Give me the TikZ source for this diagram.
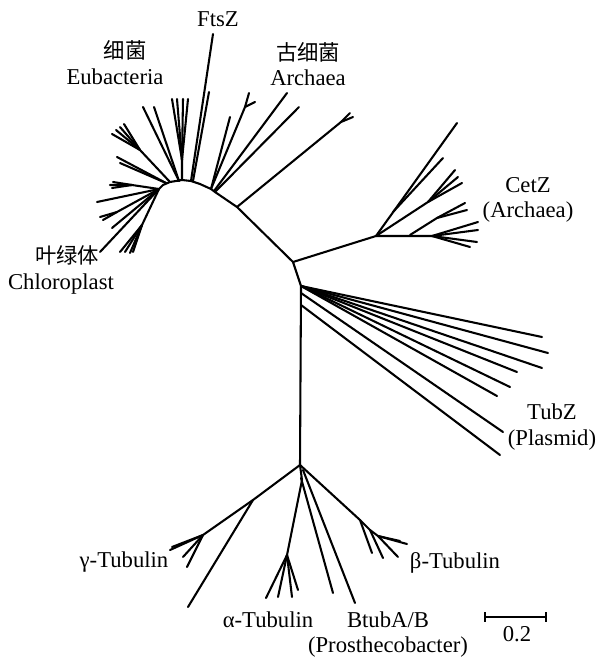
\documentclass[tikz,border=0pt]{standalone}
\usepackage{fontspec}
\setmainfont{Liberation Serif}
\newfontfamily\cjkfont{Noto Sans CJK SC}
\usepackage{tikz}
\usetikzlibrary{calc}

\tikzset{
  branch/.style={line width=1.55pt},
  lab/.style={inner sep=0pt,font=\fontsize{17}{20}\selectfont},
  cjklab/.style={inner sep=0pt,font=\cjkfont\fontsize{16}{19}\selectfont},
}

\begin{document}
\begin{tikzpicture}[x=0.75pt,y=-0.75pt,line join=round,line cap=round]
  \useasboundingbox (0,0) rectangle (598,657);
  % backbone
  \coordinate (R0) at (300,465);
  \coordinate (R1) at (301,286);
  \coordinate (R2) at (293,262);
  % arch
  \coordinate (A1) at (237,207);
  \coordinate (A2) at (215,192);
  \coordinate (A3) at (211,189);
  \coordinate (A4) at (191,181);
  \coordinate (A5) at (182,180);
  \coordinate (A6) at (170,182);
  \coordinate (A7) at (163,185);
  \coordinate (A8) at (159,189);
  \draw[branch] (R0) -- (R1) -- (R2) -- (A1) -- (A2) -- (A3) -- (200,184) -- (A4)
    -- (A5) -- (A6) -- (A7) -- (A8);
  % archaea
  \coordinate (N1) at (341,122);
  \draw[branch] (A1) -- (N1) -- (350,113);
  \draw[branch] (N1) -- (353,117);
  \draw[branch] (A2) -- (299,107);
  \draw[branch] (214,191) -- (287,93);
  \coordinate (N3) at (245,107);
  \draw[branch] (A3) -- (N3) -- (249,93);
  \draw[branch] (N3) -- (255,102);
  \draw[branch] (A3) -- (230,117);
  % FtsZ
  \draw[branch] (A4) -- (213,34);
  \draw[branch] (193,181) -- (209,92);
  % eubacteria
  \coordinate (E1) at (182,160);
  \draw[branch] (A5) -- (E1) -- (172,99);
  \draw[branch] (E1) -- (177,99);
  \draw[branch] (E1) -- (183,99);
  \draw[branch] (E1) -- (188,99);
  \draw[branch] (179,181) -- (143,107);
  \draw[branch] (179,181) -- (154,107);
  \coordinate (E2) at (140,150);
  \draw[branch] (A6) -- (E2) -- (112,134);
  \draw[branch] (E2) -- (116,130);
  \draw[branch] (E2) -- (120,127);
  \draw[branch] (E2) -- (124,124);
  \draw[branch] (166,183) -- (117,157);
  \draw[branch] (166,183) -- (120,163);
  \coordinate (E3) at (132,185);
  \draw[branch] (A8) -- (E3) -- (110,185);
  \draw[branch] (E3) -- (112,188);
  \draw[branch] (E3) -- (113,182);
  % chloroplast
  \draw[branch] (A8) -- (97,202);
  \coordinate (K1) at (117,212);
  \draw[branch] (A8) -- (K1) -- (100,217);
  \draw[branch] (K1) -- (103,220);
  \draw[branch] (A8) -- (112,228);
  \draw[branch] (A8) -- (100,252);
  \coordinate (K2) at (142,225);
  \draw[branch] (A8) -- (K2) -- (120,252);
  \draw[branch] (K2) -- (125,252);
  \draw[branch] (K2) -- (130,253);
  \draw[branch] (K2) -- (133,252);
  % CetZ
  \coordinate (C0) at (376,236);
  \coordinate (C1) at (428,202);
  \coordinate (C2) at (437,218);
  \coordinate (C3) at (432,236);
  \draw[branch] (R2) -- (C0) -- (457,123);
  \draw[branch] (393,212) -- (443,158);
  \draw[branch] (C0) -- (C1) -- (455,170);
  \draw[branch] (C1) -- (458,177);
  \draw[branch] (C1) -- (462,183);
  \draw[branch] (C0) -- (C3) -- (478,222);
  \draw[branch] (410,235) -- (C2) -- (465,203);
  \draw[branch] (C2) -- (467,210);
  \draw[branch] (C3) -- (478,230);
  \draw[branch] (C3) -- (477,242);
  \draw[branch] (C3) -- (470,247);
  % TubZ
  \draw[branch] (R1) -- (542,337);
  \draw[branch] (R1) -- (548,353);
  \draw[branch] (R1) -- (542,368);
  \draw[branch] (R1) -- (517,372);
  \draw[branch] (R1) -- (510,387);
  \draw[branch] (R1) -- (497,396);
  \draw[branch] (301,293) -- (503,432);
  \draw[branch] (301,305) -- (500,455);
  % tubulins
  \coordinate (G1) at (253,500);
  \coordinate (G2) at (203,535);
  \draw[branch] (R0) -- (G1) -- (G2) -- (170,550);
  \draw[branch] (G2) -- (172,547);
  \draw[branch] (G2) -- (183,557);
  \draw[branch] (G2) -- (187,567);
  \draw[branch] (G1) -- (188,607);
  \coordinate (AL) at (287,555);
  \draw[branch] (R0) -- (302,480) -- (AL) -- (266,598);
  \draw[branch] (AL) -- (278,597);
  \draw[branch] (AL) -- (292,597);
  \draw[branch] (AL) -- (298,590);
  \draw[branch] (301,478) -- (333,593);
  \draw[branch] (303,470) -- (355,603);
  \coordinate (BE) at (360,520);
  \coordinate (BE2) at (370,530);
  \coordinate (BE3) at (378,536);
  \draw[branch] (R0) -- (BE) -- (372,553);
  \draw[branch] (BE) -- (BE2) -- (383,558);
  \draw[branch] (BE2) -- (BE3) -- (398,557);
  \draw[branch] (BE3) -- (407,544);
  \draw[branch] (BE3) -- (400,541);
  % scale bar
  \coordinate (S0) at (485,617);
  \coordinate (S1) at (546,617);
  \draw[branch,line cap=butt] (S0) -- (S1);
  \draw[branch,line cap=butt] ($(S0)+(0,-5)$) -- ($(S0)+(0,5)$);
  \draw[branch,line cap=butt] ($(S1)+(0,-5)$) -- ($(S1)+(0,5)$);
  % labels
  \node[lab] (ftsz) at (218,19) {FtsZ};
  \node[cjklab] (eubzh) at (125,50) {细菌};
  \node[lab] (eub) at (115,77) {Eubacteria};
  \node[cjklab] (arczh) at (308,52) {古细菌};
  \node[lab] (arc) at (308,78) {Archaea};
  \node[cjklab] (chlzh) at (67,255) {叶绿体};
  \node[lab] (chl) at (61,284) {Chloroplast};
  \node[lab] (cetz) at (528,185) {CetZ};
  \node[lab] (cetzb) at (528,212) {(Archaea)};
  \node[lab] (tubz) at (552,412) {TubZ};
  \node[lab] (tubzb) at (552,440) {(Plasmid)};
  \node[lab] (gam) at (124,562) {γ-Tubulin};
  \node[lab] (alp) at (268,620) {α-Tubulin};
  \node[lab] (bet) at (455,563) {β-Tubulin};
  \node[lab] (btub) at (388,620) {BtubA/B};
  \node[lab] (pros) at (388,647) {(Prosthecobacter)};
  \node[lab] (scl) at (517,634) {0.2};
\end{tikzpicture}
\end{document}
